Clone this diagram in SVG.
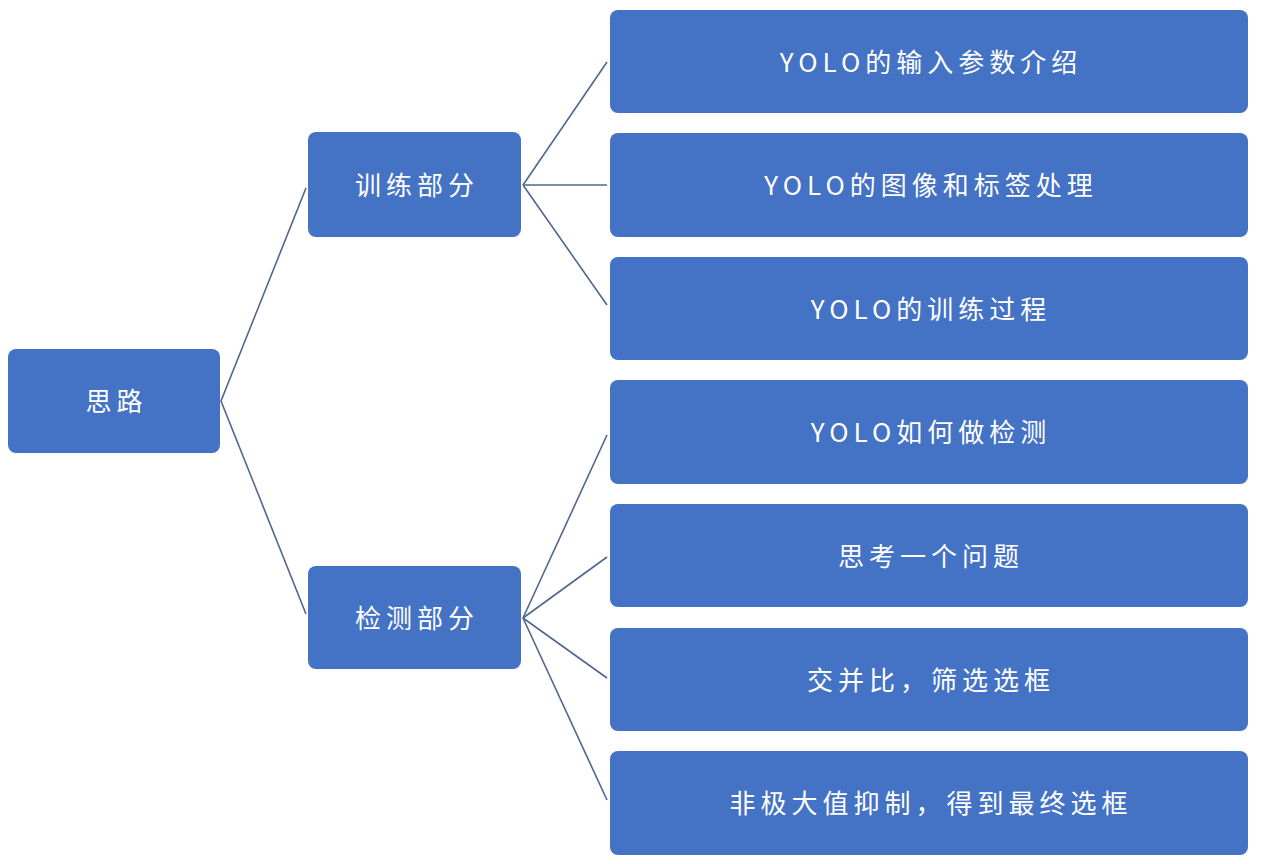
<svg xmlns="http://www.w3.org/2000/svg" width="1267" height="864" viewBox="0 0 1267 864">
<style>
.box{fill:#4472C4;}
.lbl{fill:#ffffff;font-family:"Noto Sans CJK SC","Noto Sans",sans-serif;font-size:26px;letter-spacing:5px;text-anchor:middle;}
.conn{stroke:#4F6690;stroke-width:1.6;fill:none;}
</style>
<rect width="1267" height="864" fill="#ffffff"/>
<g id="connectors">
<polyline class="conn" points="306,188 221,401 306,614"/>
<line class="conn" x1="523" y1="185" x2="607" y2="62"/>
<line class="conn" x1="523" y1="185" x2="607" y2="185"/>
<line class="conn" x1="523" y1="185" x2="607" y2="305"/>
<line class="conn" x1="523" y1="618" x2="607" y2="435"/>
<line class="conn" x1="523" y1="618" x2="607" y2="557"/>
<line class="conn" x1="523" y1="618" x2="607" y2="678"/>
<line class="conn" x1="523" y1="618" x2="607" y2="800"/>
</g>
<g id="n-root"><rect class="box" x="8" y="349" width="212" height="104" rx="8"/><text class="lbl" x="116.5" y="411">思路</text></g>
<g id="n-train"><rect class="box" x="308" y="132" width="213" height="105" rx="8"/><text class="lbl" x="417" y="195">训练部分</text></g>
<g id="n-detect"><rect class="box" x="308" y="566" width="213" height="103" rx="8"/><text class="lbl" x="417" y="628">检测部分</text></g>
<g id="n-r1"><rect class="box" x="610" y="10" width="638" height="103" rx="8"/><text class="lbl" x="931" y="72">YOLO的输入参数介绍</text></g>
<g id="n-r2"><rect class="box" x="610" y="133" width="638" height="104" rx="8"/><text class="lbl" x="931" y="195">YOLO的图像和标签处理</text></g>
<g id="n-r3"><rect class="box" x="610" y="257" width="638" height="103" rx="8"/><text class="lbl" x="931" y="319">YOLO的训练过程</text></g>
<g id="n-r4"><rect class="box" x="610" y="380" width="638" height="104" rx="8"/><text class="lbl" x="931" y="442">YOLO如何做检测</text></g>
<g id="n-r5"><rect class="box" x="610" y="504" width="638" height="103" rx="8"/><text class="lbl" x="931" y="566">思考一个问题</text></g>
<g id="n-r6"><rect class="box" x="610" y="628" width="638" height="103" rx="8"/><text class="lbl" x="931" y="690">交并比，筛选选框</text></g>
<g id="n-r7"><rect class="box" x="610" y="751" width="638" height="104" rx="8"/><text class="lbl" x="931" y="813">非极大值抑制，得到最终选框</text></g>
</svg>
